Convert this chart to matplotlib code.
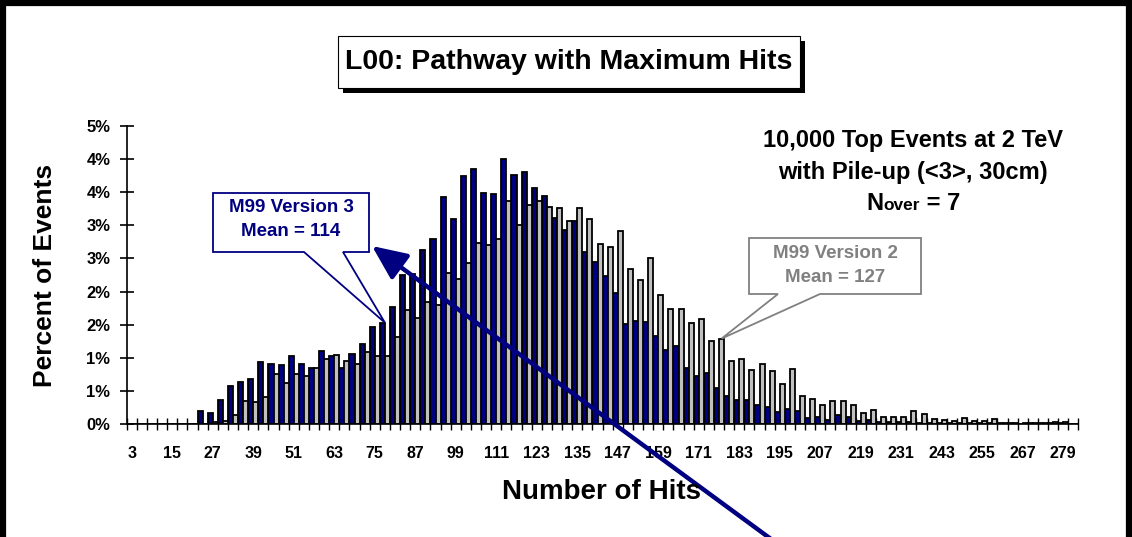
import numpy as np
import matplotlib.pyplot as plt
from matplotlib.patches import Polygon, Rectangle, FancyArrowPatch
from matplotlib.lines import Line2D

plt.rcParams['font.family'] = ['Liberation Sans', 'DejaVu Sans']
plt.rcParams['font.weight'] = 'bold'

W, H = 1132, 537
NAVY = '#000080'
GREY = '#808080'

# bins of 3 hits: 3, 6, ..., 282
hits = list(range(3, 285, 3))

# percent of events, M99 version 3 (navy)
v3 = [0, 0, 0, 0, 0, 0, 0,
      0.20, 0.16, 0.36, 0.58, 0.63, 0.68, 0.94, 0.91, 0.89,
      1.02, 0.91, 0.84, 1.10, 1.03, 0.85, 1.05, 1.21, 1.46, 1.53, 1.76,
      2.25, 2.27, 2.63, 2.79, 3.43, 3.09, 3.74, 3.85, 3.49, 3.47,
      4.00, 3.76, 3.81, 3.56, 3.44, 3.11, 2.93, 3.07, 2.60, 2.44, 2.24,
      1.98, 1.51, 1.56, 1.54, 1.33, 1.12, 1.18, 0.84, 0.73, 0.77, 0.55,
      0.42, 0.36, 0.36, 0.29, 0.26,
      0.18, 0.23, 0.19, 0.09, 0.11, 0.06, 0.14, 0.11, 0.05, 0.06,
      0.03, 0.03, 0.03, 0.03, 0.02,
      0.01, 0.01, 0.02, 0.01, 0.01, 0.01, 0.01, 0.01, 0.01, 0, 0.01, 0.01,
      0.01, 0.01, 0]

# percent of events, M99 version 2 (grey)
v2 = [0, 0, 0, 0, 0, 0, 0,
      0.0, 0.03, 0.04, 0.13, 0.34, 0.33, 0.41, 0.76, 0.62,
      0.76, 0.73, 0.84, 0.98, 1.04, 0.95, 0.90, 1.09, 1.03, 1.03, 1.32,
      1.72, 1.60, 1.84, 1.79, 2.28, 2.19, 2.43, 2.74, 2.70, 2.80,
      3.36, 3.00, 3.31, 3.37, 3.28, 3.26, 3.07, 3.26, 3.09, 2.72, 2.68,
      2.92, 2.34, 2.17, 2.51, 1.95, 1.74, 1.74, 1.53, 1.59, 1.25, 1.29,
      0.95, 0.98, 0.82, 0.90, 0.80,
      0.60, 0.83, 0.43, 0.37, 0.28, 0.34, 0.34, 0.28, 0.17, 0.21,
      0.10, 0.10, 0.10, 0.19, 0.15,
      0.08, 0.06, 0.05, 0.09, 0.05, 0.05, 0.08, 0.02, 0.02, 0.02, 0.02,
      0.02, 0.03, 0.03, 0]

y_ticks = [0, 0.5, 1, 1.5, 2, 2.5, 3, 3.5, 4, 4.5]


def px(x, y):
    """pixel position (from top-left) -> figure fraction"""
    return x / W, 1 - y / H


fig = plt.figure(figsize=(W / 100, H / 100), dpi=100)
fig.patch.set_facecolor('white')

ax = fig.add_axes([126.7 / W, (H - 424) / H, (1078.5 - 126.7) / W, (424 - 126) / H])
x = np.arange(len(hits))
ax.bar(x - 0.25, v3, width=0.5, color=NAVY, edgecolor='black', linewidth=1.3)
ax.bar(x + 0.25, v2, width=0.5, color='#C0C0C0', edgecolor='black', linewidth=1.3)

ax.set_xlim(-0.5, len(hits) - 0.5)
ax.set_ylim(0, 4.5)
for s in ['top', 'right']:
    ax.spines[s].set_visible(False)
for s in ['left', 'bottom']:
    ax.spines[s].set_linewidth(1.2)

ax.set_yticks(y_ticks)
ax.set_yticklabels([f"{int(v + 0.5)}%" for v in y_ticks])
ax.tick_params(axis='y', direction='inout', length=9.5, width=1.2, pad=7,
               labelsize=12)

ax.set_xticks(x[::4])
ax.set_xticklabels([str(h) for h in hits[::4]])
ax.set_xticks(np.arange(len(hits) + 1) - 0.5, minor=True)
ax.tick_params(axis='x', which='major', length=0, pad=16, labelsize=11.5)
ax.tick_params(axis='x', which='minor', direction='inout', length=8, width=1.0)

fig.text(*px(602, 492), 'Number of Hits', ha='center', va='center', fontsize=20)
fig.text(*px(45, 275), 'Percent of Events', ha='center', va='center',
         rotation=90, fontsize=19)

# title box with shadow
fig.add_artist(Rectangle(px(343, 93), 462 / W, 52 / H, transform=fig.transFigure,
                         facecolor='black', edgecolor='none'))
fig.add_artist(Rectangle(px(338, 88), 462 / W, 52 / H, transform=fig.transFigure,
                         facecolor='white', edgecolor='black', linewidth=0.8))
fig.text(*px(569, 62), 'L00: Pathway with Maximum Hits', ha='center',
         va='center', fontsize=20.5)

# info text
fig.text(*px(913, 140), '10,000 Top Events at 2 TeV', ha='center', va='center',
         fontsize=17)
fig.text(*px(913, 172), 'with Pile-up (<3>, 30cm)', ha='center', va='center',
         fontsize=17)
r = fig.canvas.get_renderer()
parts = [('N', 17), ('over', 12.5), (' = 7', 17)]
ts = [fig.text(0, 1 - 210 / H, s, fontsize=f, va='baseline', ha='left')
      for s, f in parts]
ws = [t.get_window_extent(r).width for t in ts]
xpos = 913 - sum(ws) / 2
for t, w in zip(ts, ws):
    t.set_x(xpos / W)
    xpos += w

# callouts (tips anchored to the bars)
fig.canvas.draw()
to_fig = fig.transFigure.inverted()


def callout(box, base, tip_data, color):
    l, t, rgt, b = box
    tip = to_fig.transform(ax.transData.transform(tip_data))
    pts = [px(l, t), px(rgt, t), px(rgt, b), px(base[1], b), tuple(tip),
           px(base[0], b), px(l, b)]
    fig.add_artist(Polygon(pts, closed=True, transform=fig.transFigure,
                           facecolor='white', edgecolor=color, linewidth=1.3))


callout((213, 193, 369, 252), (304, 343), (25, v3[25]), NAVY)
fig.text(*px(291, 207), 'M99 Version 3', ha='center', va='center',
         fontsize=13.5, color=NAVY)
fig.text(*px(291, 232), 'Mean = 114', ha='center', va='center',
         fontsize=13.5, color=NAVY)

callout((749, 238, 921, 294), (778, 820), (58.25, v2[58]), GREY)
fig.text(*px(835, 253), 'M99 Version 2', ha='center', va='center',
         fontsize=13.5, color=GREY)
fig.text(*px(835, 277), 'Mean = 127', ha='center', va='center',
         fontsize=13.5, color=GREY)

# big arrow pointing at the version 3 callout
fig.add_artist(FancyArrowPatch(px(775, 542), px(372, 246),
                               transform=fig.transFigure,
                               arrowstyle='-|>,head_length=1.05,head_width=0.47',
                               mutation_scale=20, linewidth=3.2, color=NAVY,
                               shrinkA=0, shrinkB=0))

# outer frame (left, top, right)
for xs, ys in [([3, 3], [H, 3]), ([0, W], [3, 3]), ([W - 3, W - 3], [3, H])]:
    fig.add_artist(Line2D([v / W for v in xs], [1 - v / H for v in ys],
                          transform=fig.transFigure, color='black', linewidth=4.5))

fig.savefig('out.png', dpi=100)
